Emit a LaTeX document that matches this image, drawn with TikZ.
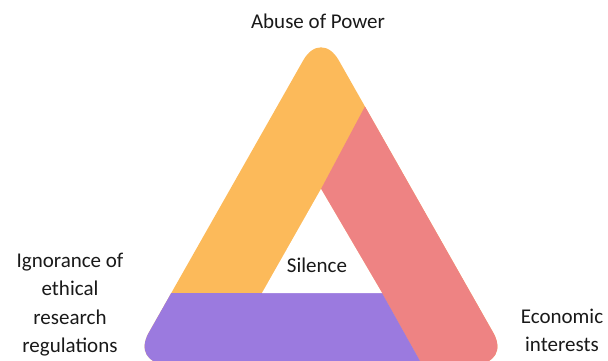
\documentclass[tikz,border=0pt]{standalone}
\usepackage{fontspec}
\setmainfont{Carlito}
\usetikzlibrary{calc}
\definecolor{bandorange}{RGB}{252,186,90}
\definecolor{bandpink}{RGB}{238,131,131}
\definecolor{bandpurple}{RGB}{155,122,223}
\definecolor{labeltext}{RGB}{25,25,25}
\tikzset{
  lbl/.style={font=\fontsize{21}{28.5}\selectfont, text=labeltext, inner sep=0pt, align=center, anchor=base},
}
\begin{document}
\begin{tikzpicture}[x=1pt,y=-1pt]
\useasboundingbox (0,0) rectangle (608,361);
\coordinate (T) at (321,29);
\coordinate (L) at (131,364);
\coordinate (R) at (511,364);
\coordinate (IT) at (321,189);
\coordinate (IL) at (262,293);
\coordinate (IR) at (382,293);
\begin{scope}
  \clip (0,0) rectangle (608,361);
  \clip[rounded corners=36pt] ($(L)!0.5!(R)$) -- (R) -- (T) -- (L) -- cycle;
  \fill[bandorange] (-10,-10) rectangle (620,420);
  \fill[bandpink] (IT) -- (427,-10) -- (620,-10) -- (620,420) -- (453,420) -- (IR) -- cycle;
  \fill[bandpurple] (-10,293) -- (IR) -- (453,420) -- (-10,420) -- cycle;
  \fill[white] (IT) -- (IR) -- (IL) -- cycle;
\end{scope}
\node[lbl] (top) at (318,28.3) {Abuse of Power};
\node[lbl] (mid) at (317,272.7) {Silence};
\node[lbl] (left) at (70,352.7) {Ignorance of\\ethical\\research\\regulations};
\node[lbl] (right) at (562,351.7) {Economic\\interests};
\end{tikzpicture}
\end{document}
